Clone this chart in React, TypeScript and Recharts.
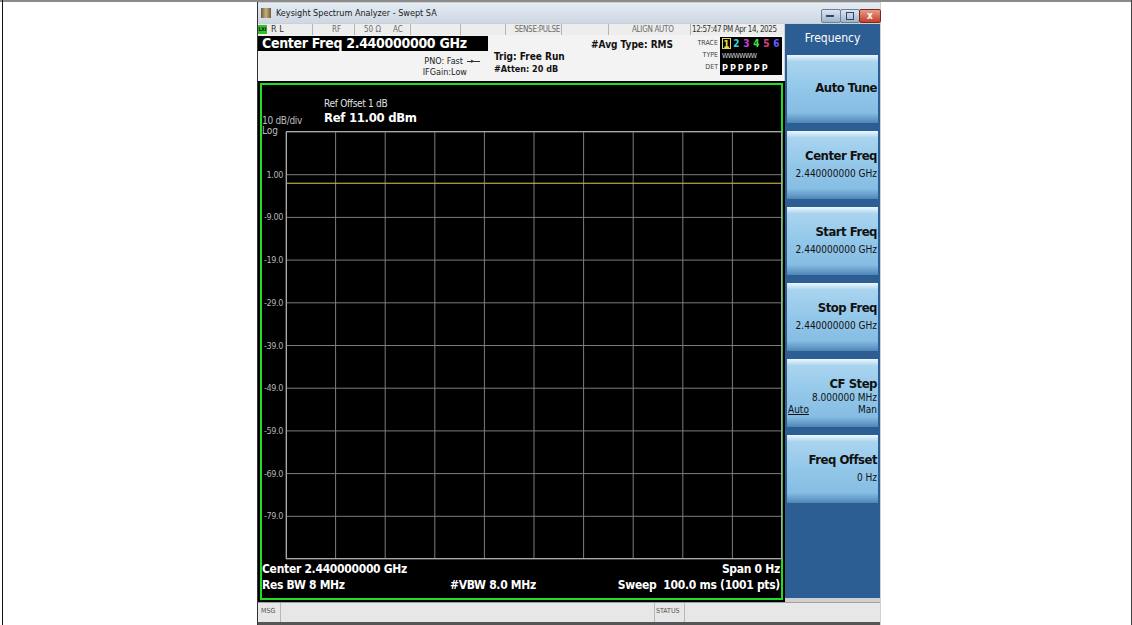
import React from "react";
import { LineChart, Line, XAxis, YAxis, CartesianGrid } from "recharts";

// amplitude axis: 10 dB/div, ref level 11 dBm
const dbTicks = [11, 1, -9, -19, -29, -39, -49, -59, -69, -79, -89];
// zero span, sweep points (10 divisions)
const sweepTicks = [0, 100, 200, 300, 400, 500, 600, 700, 800, 900, 1000];
const tracePts = [0, 100, 200, 300, 400, 500, 600, 700, 800, 900, 1000];
const traceDbm = [-1.0, -1.0, -1.0, -1.0, -1.0, -1.0, -1.0, -1.0, -1.0, -1.0, -1.0];

const traceNums = ["1", "2", "3", "4", "5", "6"];
const traceColors = ["#e6dc46", "#3fd6e0", "#c944e0", "#3fe04a", "#e0407c", "#6a5cff"];

const softkeys = [
  { title: "Auto Tune", sub: "" },
  { title: "Center Freq", sub: "2.440000000 GHz" },
  { title: "Start Freq", sub: "2.440000000 GHz" },
  { title: "Stop Freq", sub: "2.440000000 GHz" },
  { title: "CF Step", sub: "8.000000 MHz" },
  { title: "Freq Offset", sub: "0 Hz" },
];

const data = tracePts.map((p, i) => ({ pt: p, dbm: traceDbm[i] }));

const FONT = '"Liberation Sans Narrow", "DejaVu Sans Condensed", "Liberation Sans", Arial, sans-serif';

const abs = (l: number, t: number, w?: number, h?: number): React.CSSProperties => ({
  position: "absolute",
  left: l,
  top: t,
  width: w,
  height: h,
});

function fmtDb(v: number) {
  if (v === 11 || v === -89) return "";
  return Math.abs(v) < 10 ? v.toFixed(2) : v.toFixed(1);
}

function DbTick(props: any) {
  const { x, y, payload } = props;
  const s = fmtDb(payload.value);
  if (!s) return null;
  return (
    <text x={x + 5} y={y + 3} textAnchor="end" fill="#b4b4b4" fontSize={9} fontFamily={FONT} letterSpacing={-0.4}>
      {s}
    </text>
  );
}

function Sep({ x }: { x: number }) {
  return <div style={{ ...abs(x, 24, 1, 11), background: "#b4b4b4" }} />;
}

export default function App() {
  const hdr: React.CSSProperties = { position: "absolute", top: 24, fontSize: 8, color: "#6a6a6a", lineHeight: "11px", fontFamily: FONT };
  return (
    <div style={{ ...abs(0, 0, 1132, 625), background: "#fff", overflow: "hidden", fontFamily: FONT }}>
      {/* page frame */}
      <div style={{ ...abs(0, 0, 1132, 2), background: "#8a8a8a" }} />
      <div style={{ ...abs(2, 0, 1, 625), background: "#111" }} />
      <div style={{ ...abs(1131, 0, 1, 625), background: "#444" }} />

      {/* window */}
      <div style={{ ...abs(257, 2, 624, 623), background: "#d0d0d0" }} />
      <div style={{ ...abs(257, 2, 1, 623), background: "#333" }} />
      <div style={{ ...abs(258, 3, 622, 20), background: "linear-gradient(#e4ebf3, #cdd8e4)" }} />
      <div style={{ ...abs(261, 8, 10, 10), background: "linear-gradient(90deg,#6b5a3a,#c9b27a,#6b5a3a)" }} />
      <div style={{ ...abs(276, 7, 250, 12), fontSize: 9, color: "#1a1a1a", lineHeight: "12px" }}>
        Keysight Spectrum Analyzer - Swept SA
      </div>
      {/* window buttons */}
      <div style={{ ...abs(821, 9, 18, 12), background: "linear-gradient(#dbe5f1,#9fb4cc)", border: "1px solid #6b7f97", borderRadius: 2 }} />
      <div style={{ ...abs(826, 15, 8, 2), background: "#33475f" }} />
      <div style={{ ...abs(840, 9, 18, 12), background: "linear-gradient(#dbe5f1,#9fb4cc)", border: "1px solid #6b7f97", borderRadius: 2 }} />
      <div style={{ ...abs(846, 12, 6, 6), border: "1px solid #33475f" }} />
      <div style={{ ...abs(859, 9, 20, 12), background: "linear-gradient(#e99a86,#c4402a)", border: "1px solid #7a2a1c", borderRadius: 2 }} />
      <div style={{ ...abs(859, 9, 22, 13), color: "#fff", fontSize: 10, fontWeight: 700, textAlign: "center", lineHeight: "13px" }}>x</div>

      {/* header row */}
      <div style={{ ...abs(258, 24, 526, 11), background: "#ededed" }} />
      <div style={{ ...abs(258, 25, 9, 9), background: "#2fbf2f" }} />
      <div style={{ ...abs(258, 25, 9, 9), fontSize: 5, color: "#111", fontWeight: 700, lineHeight: "9px", textAlign: "center" }}>LXI</div>
      <div style={{ ...hdr, left: 271, color: "#333", fontSize: 9 }}>R L</div>
      <Sep x={312} />
      <div style={{ ...hdr, left: 332 }}>RF</div>
      <Sep x={354} />
      <div style={{ ...hdr, left: 364 }}>50 Ω</div>
      <div style={{ ...hdr, left: 393 }}>AC</div>
      <Sep x={410} />
      <Sep x={460} />
      <Sep x={505} />
      <div style={{ ...hdr, left: 506, width: 54, textAlign: "right", letterSpacing: -0.3 }}>SENSE:PULSE</div>
      <Sep x={561} />
      <Sep x={608} />
      <div style={{ ...hdr, left: 632, letterSpacing: -0.3 }}>ALIGN AUTO</div>
      <Sep x={690} />
      <div style={{ ...hdr, left: 692, color: "#333", fontSize: 8, letterSpacing: -0.4, whiteSpace: "nowrap" }}>12:57:47 PM Apr 14, 2025</div>

      {/* info area */}
      <div style={{ ...abs(258, 35, 526, 46), background: "#f3f3f3" }} />
      <div style={{ ...abs(258, 36, 230, 15), background: "#000" }} />
      <div style={{ ...abs(262, 36, 226, 15), color: "#fff", fontSize: 14, fontWeight: 700, lineHeight: "15px", letterSpacing: -0.3 }}>
        Center Freq 2.440000000 GHz
      </div>
      <div style={{ ...abs(400, 56, 63, 11), fontSize: 9, color: "#222", textAlign: "right", lineHeight: "11px" }}>PNO: Fast</div>
      <div style={{ ...abs(467, 61, 13, 1), background: "#333" }} />
      <div style={{ ...abs(471, 58, 5, 7), fontSize: 7, color: "#333", lineHeight: "7px" }}>▸</div>
      <div style={{ ...abs(400, 67, 67, 11), fontSize: 9, color: "#222", textAlign: "right", lineHeight: "11px" }}>IFGain:Low</div>
      <div style={{ ...abs(494, 51, 90, 12), fontSize: 10, fontWeight: 700, color: "#111", lineHeight: "12px" }}>Trig: Free Run</div>
      <div style={{ ...abs(494, 63, 90, 12), fontSize: 9, fontWeight: 700, color: "#111", lineHeight: "12px" }}>#Atten: 20 dB</div>
      <div style={{ ...abs(591, 39, 90, 12), fontSize: 10, fontWeight: 700, color: "#111", lineHeight: "12px" }}>#Avg Type: RMS</div>
      <div style={{ ...abs(680, 38, 38, 10), fontSize: 7, color: "#444", textAlign: "right", lineHeight: "10px" }}>TRACE</div>
      <div style={{ ...abs(680, 50, 38, 10), fontSize: 7, color: "#444", textAlign: "right", lineHeight: "10px" }}>TYPE</div>
      <div style={{ ...abs(680, 62, 38, 10), fontSize: 7, color: "#444", textAlign: "right", lineHeight: "10px" }}>DET</div>
      <div style={{ ...abs(720, 37, 62, 38), background: "#000" }} />
      {traceNums.map((n, i) => (
        <div
          key={n}
          style={{
            ...abs(722 + i * 10, 38, 9, 11),
            color: traceColors[i],
            fontSize: 10,
            fontWeight: 700,
            lineHeight: "11px",
            textAlign: "center",
            boxSizing: "border-box",
            border: i === 0 ? "1px solid #e6dc46" : "none",
          }}
        >
          {n}
        </div>
      ))}
      <div style={{ ...abs(722, 51, 60, 10), color: "#ddd", fontSize: 7, lineHeight: "10px", letterSpacing: -0.5 }}>WWWWWW</div>
      <div style={{ ...abs(722, 62, 60, 12), color: "#fff", fontSize: 9, fontWeight: 700, lineHeight: "12px", letterSpacing: 2 }}>PPPPPP</div>

      {/* measurement panel */}
      <div style={{ ...abs(258, 81, 527, 521), background: "#000" }} />
      <div style={{ ...abs(260, 83, 519, 513), border: "2px solid #1ee01e" }} />
      <div style={{ position: "absolute", left: 258, top: 81 }}>
        <LineChart width={526} height={521} data={data} margin={{ top: 51, right: 2, bottom: 43, left: 4 }}>
          <CartesianGrid stroke="#7d7d7d" strokeWidth={1} fill="#000" />
          <XAxis dataKey="pt" type="number" domain={[0, 1000]} ticks={sweepTicks} hide />
          <YAxis
            type="number"
            domain={[-89, 11]}
            ticks={dbTicks}
            interval={0}
            width={24}
            axisLine={false}
            tickLine={false}
            tick={<DbTick />}
          />
          <Line
            type="linear"
            dataKey="dbm"
            stroke="#d8cc4c"
            strokeWidth={1}
            dot={false}
            isAnimationActive={false}
          />
        </LineChart>
      </div>
      <div style={{ ...abs(286, 131, 496, 428), border: "1px solid #a8a8a8", boxSizing: "border-box", pointerEvents: "none" }} />
      <div style={{ ...abs(262, 115, 60, 11), color: "#bdbdbd", fontSize: 10, lineHeight: "11px", letterSpacing: -0.3 }}>10 dB/div</div>
      <div style={{ ...abs(262, 125, 30, 11), color: "#bdbdbd", fontSize: 10, lineHeight: "11px" }}>Log</div>
      <div style={{ ...abs(324, 98, 120, 11), color: "#e0e0e0", fontSize: 10, lineHeight: "11px", letterSpacing: -0.3 }}>Ref Offset 1 dB</div>
      <div style={{ ...abs(324, 111, 140, 14), color: "#fff", fontSize: 13, fontWeight: 700, lineHeight: "14px", letterSpacing: -0.3 }}>Ref 11.00 dBm</div>

      <div style={{ ...abs(262, 562, 200, 14), color: "#fff", fontSize: 12, fontWeight: 700, lineHeight: "14px", letterSpacing: -0.3 }}>Center 2.440000000 GHz</div>
      <div style={{ ...abs(262, 578, 120, 14), color: "#fff", fontSize: 12, fontWeight: 700, lineHeight: "14px", letterSpacing: -0.3 }}>Res BW 8 MHz</div>
      <div style={{ ...abs(450, 578, 120, 14), color: "#fff", fontSize: 12, fontWeight: 700, lineHeight: "14px", letterSpacing: -0.3 }}>#VBW 8.0 MHz</div>
      <div style={{ ...abs(600, 562, 180, 14), color: "#fff", fontSize: 12, fontWeight: 700, lineHeight: "14px", textAlign: "right", letterSpacing: -0.3 }}>Span 0 Hz</div>
      <div style={{ ...abs(560, 578, 220, 14), color: "#fff", fontSize: 12, fontWeight: 700, lineHeight: "14px", textAlign: "right", whiteSpace: "pre", letterSpacing: -0.3 }}>
        {"Sweep  100.0 ms (1001 pts)"}
      </div>

      {/* softkey panel */}
      <div style={{ ...abs(785, 24, 95, 574), background: "#2c5e93" }} />
      <div style={{ ...abs(785, 30, 95, 16), color: "#fff", fontSize: 12, textAlign: "center", lineHeight: "16px" }}>Frequency</div>
      {softkeys.map((k, i) => {
        const top = 55 + i * 76;
        return (
          <div
            key={k.title}
            style={{
              ...abs(787, top, 91, 68),
              background: "linear-gradient(#eef7fd 0%, #a9d4ef 10%, #93c7e9 50%, #86bde3 85%, #4f86b8 100%)",
            }}
          >
            <div
              style={{
                position: "absolute",
                right: 1,
                top: k.sub ? 17 : 25,
                fontSize: 13,
                fontWeight: 700,
                color: "#111",
                lineHeight: "15px",
                letterSpacing: -0.5,
                whiteSpace: "nowrap",
              }}
            >
              {k.title}
            </div>
            {k.sub && (
              <div
                style={{
                  position: "absolute",
                  right: 1,
                  top: k.title === "CF Step" ? 33 : 37,
                  fontSize: 10,
                  color: "#111",
                  lineHeight: "12px",
                  whiteSpace: "nowrap",
                }}
              >
                {k.sub}
              </div>
            )}
            {k.title === "CF Step" && (
              <>
                <div style={{ position: "absolute", left: 1, top: 45, fontSize: 10, color: "#111", lineHeight: "12px", textDecoration: "underline" }}>Auto</div>
                <div style={{ position: "absolute", right: 1, top: 45, fontSize: 10, color: "#111", lineHeight: "12px" }}>Man</div>
              </>
            )}
          </div>
        );
      })}

      {/* message bar */}
      <div style={{ ...abs(258, 602, 622, 21), background: "#e7e7e7", borderTop: "1px solid #a0a0a0", boxSizing: "border-box" }} />
      <div style={{ ...abs(261, 606, 20, 10), fontSize: 7, color: "#555", lineHeight: "10px" }}>MSG</div>
      <div style={{ ...abs(280, 603, 1, 20), background: "#b8b8b8" }} />
      <div style={{ ...abs(654, 603, 1, 20), background: "#b8b8b8" }} />
      <div style={{ ...abs(656, 606, 30, 10), fontSize: 7, color: "#555", lineHeight: "10px" }}>STATUS</div>
      <div style={{ ...abs(684, 603, 1, 20), background: "#b8b8b8" }} />
      <div style={{ ...abs(258, 622, 622, 3), background: "#555" }} />
    </div>
  );
}
